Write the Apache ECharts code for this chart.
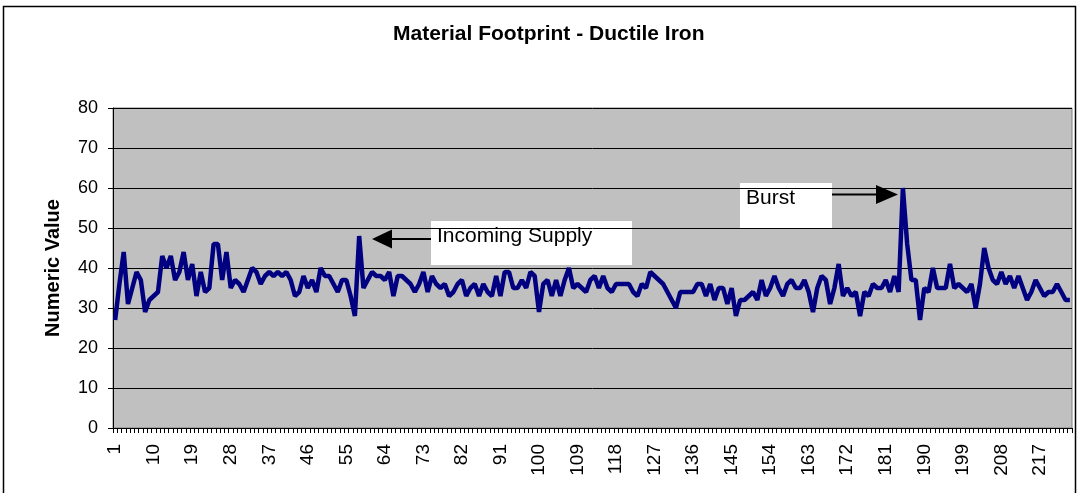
<!DOCTYPE html>
<html>
<head>
<meta charset="utf-8">
<script src="https://cdn.jsdelivr.net/npm/echarts@6/dist/echarts.min.js"></script>
<style>
html, body { margin: 0; padding: 0; background: #fff; }
#chart { width: 1080px; height: 493px; }
</style>
</head>
<body>
<div id="chart"></div>
<script>
// values, one per sample (1..224)
var footprint = [
    27, 36, 44, 31, 35, 39, 37, 29, 32, 33,
    34, 43, 40, 43, 37, 39, 44, 37, 41, 33,
    39, 34, 35, 46, 46, 37, 44, 35, 37, 36,
    34, 37, 40, 39, 36, 38, 39, 38, 39, 38,
    39, 37, 33, 34, 38, 35, 37, 34, 40, 38,
    38, 36, 34, 37, 37, 33, 28, 48, 35, 37,
    39, 38, 38, 37, 39, 33, 38, 38, 37, 36,
    34, 36, 39, 34, 38, 36, 35, 36, 33, 34,
    36, 37, 33, 35, 36, 33, 36, 34, 33, 38,
    33, 39, 39, 35, 35, 37, 35, 39, 38, 29,
    36, 37, 33, 37, 33, 37, 40, 35, 36, 35,
    34, 37, 38, 35, 38, 35, 34, 36, 36, 36,
    36, 34, 33, 36, 35, 39, 38, 37, 36, 34,
    32, 30, 34, 34, 34, 34, 36, 36, 33, 36,
    32, 35, 35, 31, 35, 28, 32, 32, 33, 34,
    32, 37, 33, 35, 38, 35, 33, 36, 37, 35,
    35, 37, 34, 29, 35, 38, 37, 31, 35, 41,
    33, 35, 33, 34, 28, 34, 33, 36, 35, 35,
    37, 34, 38, 34, 60, 46, 37, 37, 27, 35,
    34, 40, 35, 35, 35, 41, 35, 36, 35, 34,
    36, 30, 36, 45, 40, 37, 36, 39, 36, 38,
    35, 38, 35, 32, 34, 37, 35, 33, 34, 34,
    36, 34, 32, 32
];
var categories = footprint.map(function (v, i) { return String(i + 1); });

var font = 'Liberation Sans, Arial, sans-serif';

var chart = echarts.init(document.getElementById('chart'));

var option = {
    animation: false,
    backgroundColor: '#fff',
    title: {
        text: 'Material Footprint - Ductile Iron',
        left: 388,
        top: 19,
        textStyle: { fontFamily: font, fontSize: 21, fontWeight: 'bold', color: '#000' }
    },
    grid: {
        left: 113, right: 8, top: 108, bottom: 65,
        show: true,
        backgroundColor: '#c0c0c0',
        borderColor: '#808080',
        borderWidth: 1
    },
    xAxis: {
        type: 'category',
        data: categories,
        boundaryGap: true,
        axisLine: { lineStyle: { color: '#000', width: 1 } },
        axisTick: { show: true, interval: 0, length: 5, lineStyle: { color: '#000' } },
        axisLabel: {
            interval: 8,
            rotate: 90,
            margin: 16,
            fontFamily: font,
            fontSize: 19,
            color: '#000'
        },
        splitLine: { show: false }
    },
    yAxis: {
        type: 'value',
        min: 0, max: 80, interval: 10,
        name: 'Numeric Value',
        nameLocation: 'middle',
        nameGap: 50,
        nameTextStyle: { fontFamily: font, fontSize: 20, fontWeight: 'bold', color: '#000' },
        axisLine: { show: true, lineStyle: { color: '#000', width: 1 } },
        axisTick: { show: true, length: 5, lineStyle: { color: '#000' } },
        axisLabel: { margin: 15, fontFamily: font, fontSize: 18, color: '#000' },
        splitLine: { show: true, lineStyle: { color: '#000', width: 1 } }
    },
    series: [{
        type: 'line',
        data: footprint,
        symbol: 'none',
        lineStyle: { color: '#000080', width: 4.5 },
        itemStyle: { color: '#000080' }
    }],
    graphic: [
        // outer chart frame
        { type: 'rect', silent: true, shape: { x: 3.5, y: 6.5, width: 1072, height: 520 },
          style: { fill: 'none', stroke: '#000', lineWidth: 1.5 } },
        // Incoming Supply note
        { type: 'rect', shape: { x: 431, y: 221, width: 201, height: 44 },
          style: { fill: '#fff' } },
        { type: 'text', x: 437, y: 236,
          style: { text: 'Incoming Supply', font: '21px ' + font, fill: '#000', verticalAlign: 'middle' } },
        { type: 'line', shape: { x1: 431, y1: 239, x2: 390, y2: 239 },
          style: { stroke: '#000', lineWidth: 2 } },
        { type: 'polygon', shape: { points: [[372, 239], [392, 229.5], [392, 248.5]] },
          style: { fill: '#000' } },
        // Burst note
        { type: 'rect', shape: { x: 740, y: 183, width: 92, height: 46 },
          style: { fill: '#fff' } },
        { type: 'text', x: 746, y: 198.5,
          style: { text: 'Burst', font: '21px ' + font, fill: '#000', verticalAlign: 'middle' } },
        { type: 'line', shape: { x1: 832, y1: 194.5, x2: 878, y2: 194.5 },
          style: { stroke: '#000', lineWidth: 2 } },
        { type: 'polygon', shape: { points: [[898, 194.5], [876, 185], [876, 204]] },
          style: { fill: '#000' } }
    ]
};

chart.setOption(option);

window.addEventListener('resize', function () {
    chart.resize();
});
</script>
</body>
</html>
